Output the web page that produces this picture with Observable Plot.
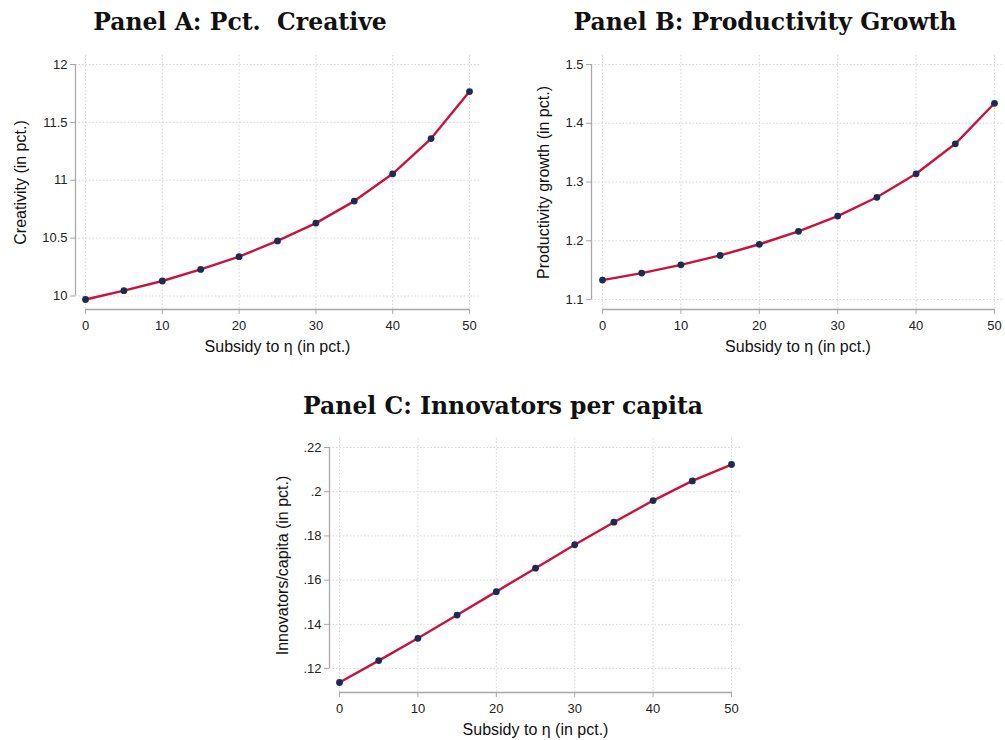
<!DOCTYPE html>
<html><head><meta charset="utf-8">
<script src="https://cdn.jsdelivr.net/npm/d3@7"></script>
<script src="https://cdn.jsdelivr.net/npm/@observablehq/plot@0.6"></script>
<style>
body{margin:0;background:#fff;}
#wrap{position:relative;width:1005px;height:740px;background:#fff;overflow:hidden;}
.title{position:absolute;width:500px;font-family:"DejaVu Serif",serif;font-weight:bold;font-size:23.5px;line-height:28px;color:#111;text-align:center;white-space:pre;}
.panel{position:absolute;}
</style></head><body><div id="wrap"></div>
<script>
// ---- data ----
const subsidy = [0, 5, 10, 15, 20, 25, 30, 35, 40, 45, 50];
const creativity = [9.97, 10.046, 10.13, 10.23, 10.34, 10.476, 10.63, 10.82, 11.056, 11.36, 11.766];
const prodGrowth = [1.133, 1.145, 1.159, 1.175, 1.194, 1.216, 1.242, 1.274, 1.314, 1.365, 1.434];
const innovators = [0.1137, 0.1236, 0.1337, 0.1442, 0.1548, 0.1654, 0.1760, 0.1862, 0.1960, 0.2049, 0.2123];
const xTicks = [0, 10, 20, 30, 40, 50];
const yTicksA = [10, 10.5, 11, 11.5, 12];
const yTicksB = [1.1, 1.2, 1.3, 1.4, 1.5];
const yTicksC = [0.12, 0.14, 0.16, 0.18, 0.20, 0.22];
const titles = ["Panel A: Pct.  Creative", "Panel B: Productivity Growth", "Panel C: Innovators per capita"];
const xLabel = "Subsidy to η (in pct.)";
const yLabels = ["Creativity (in pct.)", "Productivity growth (in pct.)", "Innovators/capita (in pct.)"];

const fmtA = d => String(d);
const fmtB = d => d3.format(".1f")(d);
const fmtC = d => d3.format(".2~f")(d).replace(/^0/, "");

const LINE = "#c8143c", DOT = "#1c2b4e", AXIS = "#a8a8a8", GRID = "#d6d6d6";

function panel(opt) {
  const {values, yTicks, yFmt, yLabel, width, height, m, ins, yLabelDx} = opt;
  const data = subsidy.map((s, i) => ({x: s, y: values[i]}));
  const yDomain = [Math.min(d3.min(values), d3.min(yTicks)), Math.max(d3.max(values), d3.max(yTicks))];
  return Plot.plot({
    width, height,
    marginLeft: m[0], marginRight: m[1], marginTop: m[2], marginBottom: m[3],
    insetLeft: ins[0], insetRight: ins[1], insetTop: ins[2], insetBottom: ins[3],
    style: {fontFamily: "'Liberation Sans', Arial, sans-serif", fontSize: "13px", color: "#222", background: "transparent"},
    x: {domain: [0, 50]},
    y: {domain: yDomain},
    marks: [
      Plot.gridX(xTicks, {stroke: GRID, strokeOpacity: 1, strokeDasharray: "1.5,2"}),
      Plot.gridY(yTicks, {stroke: GRID, strokeOpacity: 1, strokeDasharray: "1.5,2"}),
      Plot.axisX(xTicks, {tickSize: 5, tickPadding: 6, stroke: AXIS, fill: "#222", fontSize: 13, label: null, tickFormat: d => String(d)}),
      Plot.axisY(yTicks, {tickSize: 5, tickPadding: 3, stroke: AXIS, fill: "#222", fontSize: 13, label: null, tickFormat: yFmt}),
      Plot.ruleY([yDomain[0]], {x1: xTicks[0], x2: xTicks[xTicks.length - 1], dy: ins[3], stroke: AXIS, strokeWidth: 1.3}),
      Plot.ruleX([xTicks[0]], {y1: yTicks[0], y2: yTicks[yTicks.length - 1], dx: -ins[0], stroke: AXIS, strokeWidth: 1.3}),
      Plot.line(data, {x: "x", y: "y", stroke: LINE, strokeWidth: 2.4}),
      Plot.dot(data, {x: "x", y: "y", r: 3.4, fill: DOT, stroke: "none"}),
      Plot.text([xLabel], {text: d => d, frameAnchor: "bottom", textAnchor: "middle", dy: 42, fontSize: 16, fill: "#111"}),
      Plot.text([yLabel], {text: d => d, frameAnchor: "left", textAnchor: "middle", rotate: -90, dx: yLabelDx, fontSize: 16, fill: "#111"})
    ]
  });
}

const wrap = document.getElementById("wrap");
function place(el, left, top) {
  const d = document.createElement("div");
  d.className = "panel";
  d.style.left = left + "px"; d.style.top = top + "px";
  d.appendChild(el);
  wrap.appendChild(d);
}
function title(text, cx, top) {
  const d = document.createElement("div");
  d.className = "title";
  d.textContent = text;
  d.style.left = (cx - 250) + "px"; d.style.top = top + "px";
  wrap.appendChild(d);
}

place(panel({values: creativity, yTicks: yTicksA, yFmt: fmtA, yLabel: yLabels[0], width: 490, height: 370,
  m: [75, 11, 55, 61], ins: [10, 10, 9, 10], yLabelDx: -55}), 0, 0);
place(panel({values: prodGrowth, yTicks: yTicksB, yFmt: fmtB, yLabel: yLabels[1], width: 505, height: 370,
  m: [91, 1, 55, 61], ins: [11, 10, 9, 10], yLabelDx: -48}), 500, 0);
place(panel({values: innovators, yTicks: yTicksC, yFmt: fmtC, yLabel: yLabels[2], width: 500, height: 360,
  m: [69, 19, 58, 48], ins: [10, 10, 9, 10], yLabelDx: -47}), 260, 380);

title(titles[0], 240, 8);
title(titles[1], 765, 8);
title(titles[2], 503, 392);
</script></body></html>
